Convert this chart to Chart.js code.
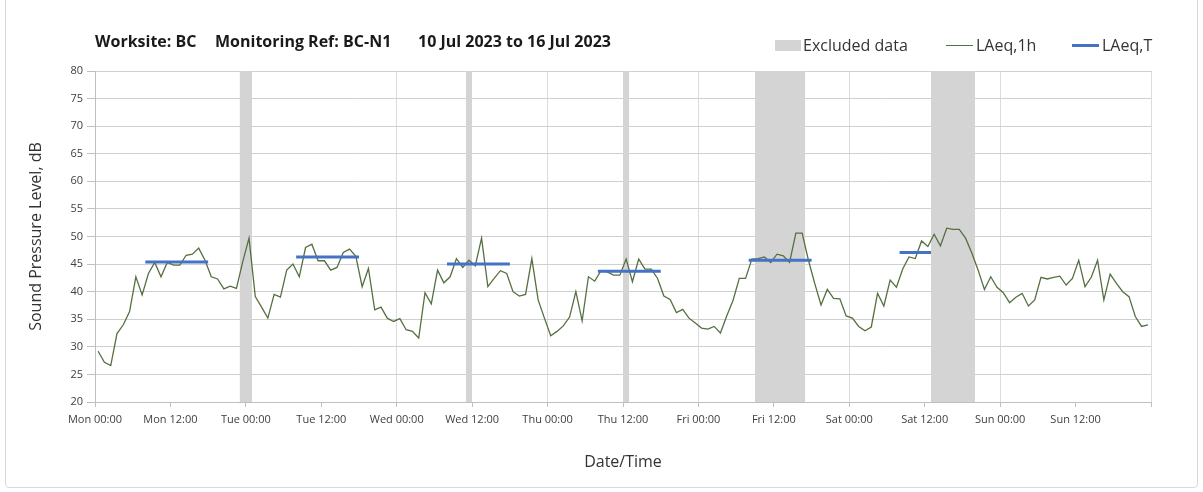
<!DOCTYPE html>
<html>
<head>
<meta charset="utf-8">
<script src="https://cdn.jsdelivr.net/npm/chart.js@4.4.1/dist/chart.umd.min.js"></script>
<style>
  html, body { margin: 0; padding: 0; background: #fff; }
  #wrap { position: relative; width: 1203px; height: 492px; font-family: "Open Sans", Lato, sans-serif; overflow: hidden; }
  #frame { position: absolute; left: 5px; top: -4px; width: 1191px; height: 490px; border: 1px solid #d9d9d9; border-radius: 4px; }
  canvas { position: absolute; left: 0; top: 0; }
  .ttl { position: absolute; top: 31px; font-weight: bold; font-size: 16px; line-height: 20px; color: #1a1a1a; white-space: nowrap; }
  .lt { position: absolute; top: 35px; font-size: 16px; line-height: 20px; color: #333; white-space: nowrap; }
  .sw { position: absolute; }
</style>
</head>
<body>
<div id="wrap">
  <div id="frame"></div>
  <canvas id="grafico" width="1203" height="492"></canvas>
  <!-- titulo -->
  <div class="ttl" style="left:95px">Worksite: BC</div>
  <div class="ttl" style="left:215px">Monitoring Ref: BC-N1</div>
  <div class="ttl" style="left:418px">10 Jul 2023 to 16 Jul 2023</div>
  <!-- leyenda -->
  <div class="sw" style="left:775px;top:40px;width:26px;height:11px;background:#d4d4d4"></div>
  <div class="lt" style="left:803px">Excluded data</div>
  <div class="sw" style="left:946px;top:45px;width:27px;height:1px;background:#557040"></div>
  <div class="lt" style="left:976px">LAeq,1h</div>
  <div class="sw" style="left:1072px;top:44px;width:27px;height:3px;background:#4472c4"></div>
  <div class="lt" style="left:1102px">LAeq,T</div>
</div>

<script>
// etiquetas del eje x (cada 12 h, horas desde Mon 00:00)
const tickHours = [0, 12, 24, 36, 48, 60, 72, 84, 96, 108, 120, 132, 144, 156, 168];
const tickLabels = ['Mon 00:00', 'Mon 12:00', 'Tue 00:00', 'Tue 12:00', 'Wed 00:00', 'Wed 12:00',
  'Thu 00:00', 'Thu 12:00', 'Fri 00:00', 'Fri 12:00', 'Sat 00:00', 'Sat 12:00', 'Sun 00:00', 'Sun 12:00', ''];

// LAeq,1h - un valor por hora, 168 horas
const laeq1h = [
  29.2, 27.2, 26.6, 32.4, 34.0, 36.4, 42.7, 39.4, 43.3, 45.3, 42.7, 45.3,
  44.8, 44.8, 46.6, 46.8, 47.9, 45.7, 42.7, 42.3, 40.5, 41.0, 40.6, 45.4,
  49.7, 39.1, 37.2, 35.2, 39.5, 39.0, 43.9, 45.0, 42.7, 48.0, 48.6, 45.6,
  45.6, 43.9, 44.4, 47.1, 47.7, 46.4, 40.9, 44.2, 36.7, 37.2, 35.2, 34.6,
  35.1, 33.1, 32.8, 31.6, 39.8, 37.8, 43.9, 41.6, 42.7, 46.0, 44.4, 45.7,
  44.7, 49.7, 40.9, 42.4, 43.8, 43.3, 40.0, 39.2, 39.5, 46.0, 38.5, 35.2,
  32.0, 32.8, 33.8, 35.4, 40.0, 34.7, 42.7, 41.9, 43.8, 43.6, 43.0, 43.0,
  45.9, 41.8, 45.9, 44.1, 44.1, 42.4, 39.2, 38.6, 36.2, 36.8, 35.2, 34.3,
  33.4, 33.2, 33.7, 32.5, 35.6, 38.4, 42.4, 42.4, 45.9, 46.0, 46.3, 45.3,
  46.8, 46.5, 45.3, 50.6, 50.6, 45.7, 41.5, 37.6, 40.4, 38.8, 38.7, 35.6,
  35.2, 33.7, 32.9, 33.6, 39.7, 37.4, 42.1, 40.8, 44.1, 46.3, 46.0, 49.2,
  48.2, 50.4, 48.3, 51.5, 51.3, 51.3, 49.7, 47.0, 43.9, 40.4, 42.7, 40.8,
  39.8, 38.0, 39.0, 39.7, 37.4, 38.5, 42.6, 42.3, 42.6, 42.8, 41.2, 42.4,
  45.7, 40.9, 42.6, 45.7, 38.5, 43.2, 41.5, 40.0, 39.1, 35.5, 33.7, 34.0
];

// LAeq,T - periodos de trabajo (horas) y nivel
const tInicio = [8, 32, 56, 80, 104, 128];
const tFin = [18, 42, 66, 90, 114, 133];
const tNivel = [45.4, 46.3, 45.0, 43.7, 45.7, 47.1];

// datos excluidos (horas)
const exInicio = [23, 59, 84, 105, 133];
const exFin = [25, 60, 85, 113, 140];

document.addEventListener("DOMContentLoaded", function () {
  const fuente = '"Open Sans", Lato, sans-serif';

  // segmentos LAeq,T separados con null
  let puntosT = [];
  tInicio.forEach((ini, i) => {
    puntosT.push({ x: ini, y: tNivel[i] });
    puntosT.push({ x: tFin[i], y: tNivel[i] });
    puntosT.push({ x: tFin[i], y: null });
  });

  let datasets = [
    {
      label: 'LAeq,T',
      data: puntosT,
      borderColor: '#4472c4',
      borderWidth: 3,
      pointRadius: 0,
      spanGaps: false
    },
    {
      label: 'LAeq,1h',
      data: laeq1h.map((v, i) => ({ x: i + 0.5, y: v })), // centro de cada hora
      borderColor: '#557040',
      borderWidth: 1.3,
      pointRadius: 0,
      tension: 0
    }
  ];

  // bandas grises de datos excluidos
  exInicio.forEach((ini, i) => {
    datasets.push({
      label: 'Excluded data',
      data: [{ x: ini, y: 80 }, { x: exFin[i], y: 80 }],
      borderWidth: 0,
      pointRadius: 0,
      backgroundColor: '#d4d4d4',
      fill: 'start'
    });
  });

  new Chart(document.getElementById('grafico'), {
    type: 'line',
    data: { datasets: datasets },
    options: {
      responsive: false,
      animation: false,
      devicePixelRatio: 1,
      layout: { padding: { left: 6, right: 52, top: 71, bottom: 14 } },
      plugins: {
        legend: { display: false },
        tooltip: { enabled: false }
      },
      scales: {
        x: {
          type: 'linear',
          min: 0,
          max: 168,
          afterBuildTicks: s => { s.ticks = tickHours.map(v => ({ value: v })); },
          afterFit: s => { s.height = 76; },
          ticks: {
            autoSkip: false,
            maxRotation: 0,
            padding: 6,
            color: '#404040',
            font: { family: fuente, size: 11 },
            callback: v => tickLabels[tickHours.indexOf(v)]
          },
          grid: {
            color: ctx => (ctx.tick && ctx.tick.value % 24 === 0) ? '#dcdcdc' : 'rgba(0,0,0,0)',
            tickColor: '#bfbfbf',
            tickLength: 5
          },
          border: { color: '#bfbfbf' },
          title: {
            display: true,
            text: 'Date/Time',
            color: '#333',
            font: { family: fuente, size: 16 },
            padding: { top: 0, bottom: 6 }
          }
        },
        y: {
          min: 20,
          max: 80,
          afterFit: s => { s.width = 89; },
          ticks: {
            stepSize: 5,
            padding: 4,
            color: '#404040',
            font: { family: fuente, size: 11 }
          },
          grid: { color: '#d0d0d0', tickColor: '#bfbfbf', tickLength: 8 },
          border: { color: '#bfbfbf' },
          title: {
            display: true,
            text: 'Sound Pressure Level, dB',
            color: '#333',
            font: { family: fuente, size: 16 },
            padding: { top: 21, bottom: 0 }
          }
        }
      }
    }
  });
});
</script>
</body>
</html>
